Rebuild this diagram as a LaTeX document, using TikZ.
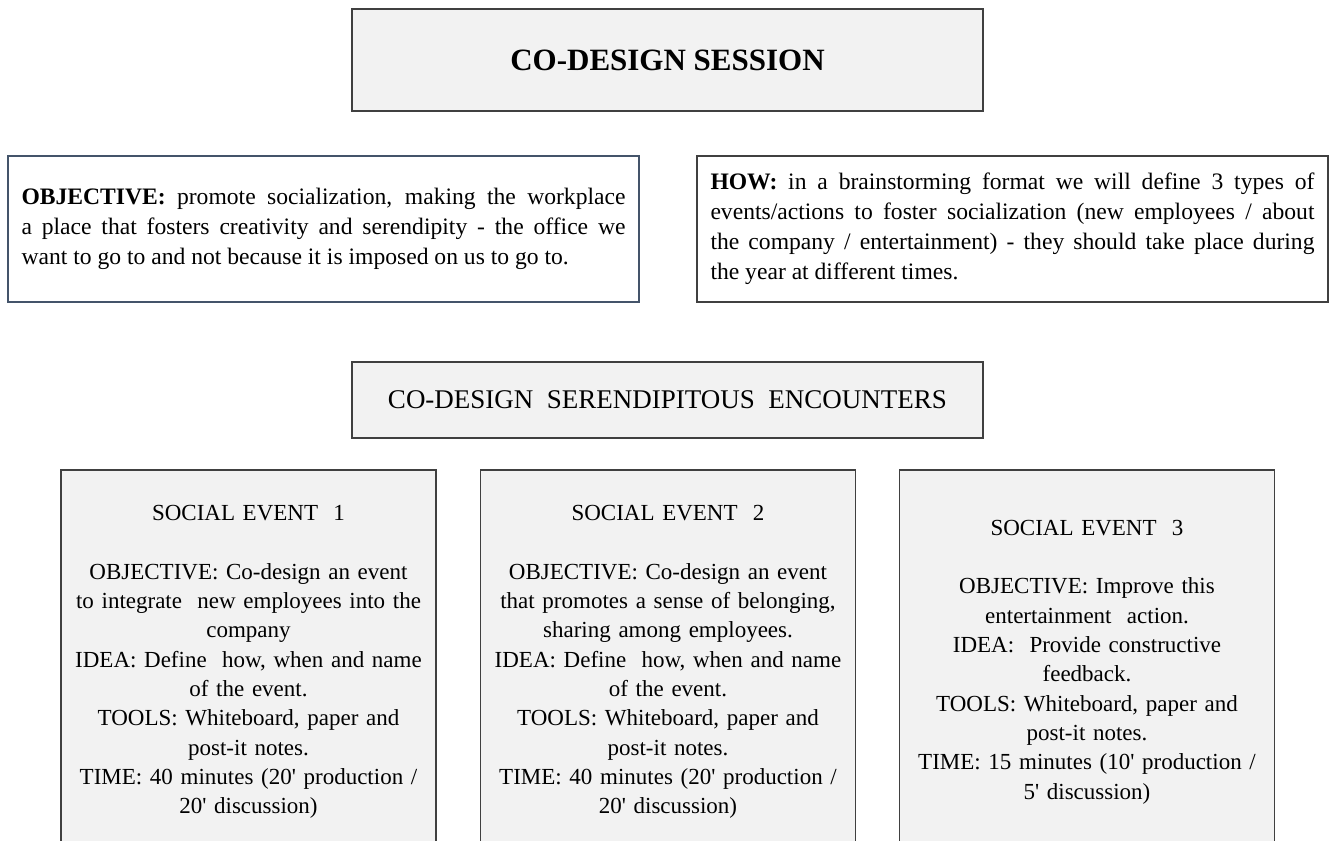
\documentclass[tikz,border=0pt]{standalone}
\usepackage{fontspec}
\setmainfont{Liberation Serif}[Ligatures=TeXOff]
\definecolor{boxfill}{HTML}{F2F2F2}
\definecolor{boxline}{HTML}{404040}
\definecolor{objline}{HTML}{44546A}

\begin{document}
\begin{tikzpicture}[x=0.5pt,y=-0.5pt,
	graybox/.style={draw=boxline,fill=boxfill,line width=0.7pt,minimum width=315.5pt,align=center,inner sep=0pt},
	textbox/.style={draw=boxline,fill=white,line width=0.7pt,minimum width=315.5pt,minimum height=73pt,text width=302pt,align=justify,font=\fontsize{11.8}{15}\selectfont},
	eventbox/.style={graybox,minimum width=187.5pt,minimum height=192pt,text width=182pt,font=\fontsize{11.5}{14.65}\selectfont}]
\clip (0,0) rectangle (1329,841);
\fill[white] (0,0) rectangle (1329,841);
% headline boxes
\node (session) [graybox,minimum height=51pt,font=\bfseries\fontsize{15.5}{18}\selectfont] at (667.5,60) {CO-DESIGN SESSION};
\node (objective) [textbox,draw=objline] at (323.5,229) {\textbf{OBJECTIVE:} promote socialization, making the workplace\linebreak a place that fosters creativity and serendipity - the office we\linebreak want to go to and not because it is imposed on us to go to.};
\node (how) [textbox] at (1012.5,229) {\textbf{HOW:} in a brainstorming format we will define 3 types of\linebreak events/actions to foster socialization (new employees / about\linebreak the company / entertainment) - they should take place during\linebreak the year at different times.};
\node (encounters) [graybox,minimum height=38pt,font=\fontsize{13.5}{16}\selectfont] at (667.5,400) {CO-DESIGN\ \ SERENDIPITOUS\ \ ENCOUNTERS};
% social events
\foreach \xpos/\body [count=\i] in {
	248.5/{OBJECTIVE: Co-design an event\\to integrate\ \ new employees into the\\company\\IDEA: Define\ \ how, when and name\\of the event.\\TOOLS: Whiteboard, paper and\\post-it notes.\\TIME: 40 minutes (20' production /\\20' discussion)},
	668/{OBJECTIVE: Co-design an event\\that promotes a sense of belonging,\\sharing among employees.\\IDEA: Define\ \ how, when and name\\of the event.\\TOOLS: Whiteboard, paper and\\post-it notes.\\TIME: 40 minutes (20' production /\\20' discussion)},
	1087/{OBJECTIVE: Improve this\\entertainment\ \ action.\\IDEA:\ \ Provide constructive\\feedback.\\TOOLS: Whiteboard, paper and\\post-it notes.\\TIME: 15 minutes (10' production /\\5' discussion)}%
	}{
	\node (event\i) [eventbox] at (\xpos,662) {SOCIAL EVENT\ \ \i\\[14.65pt]\body};
	}
\end{tikzpicture}
\end{document}
